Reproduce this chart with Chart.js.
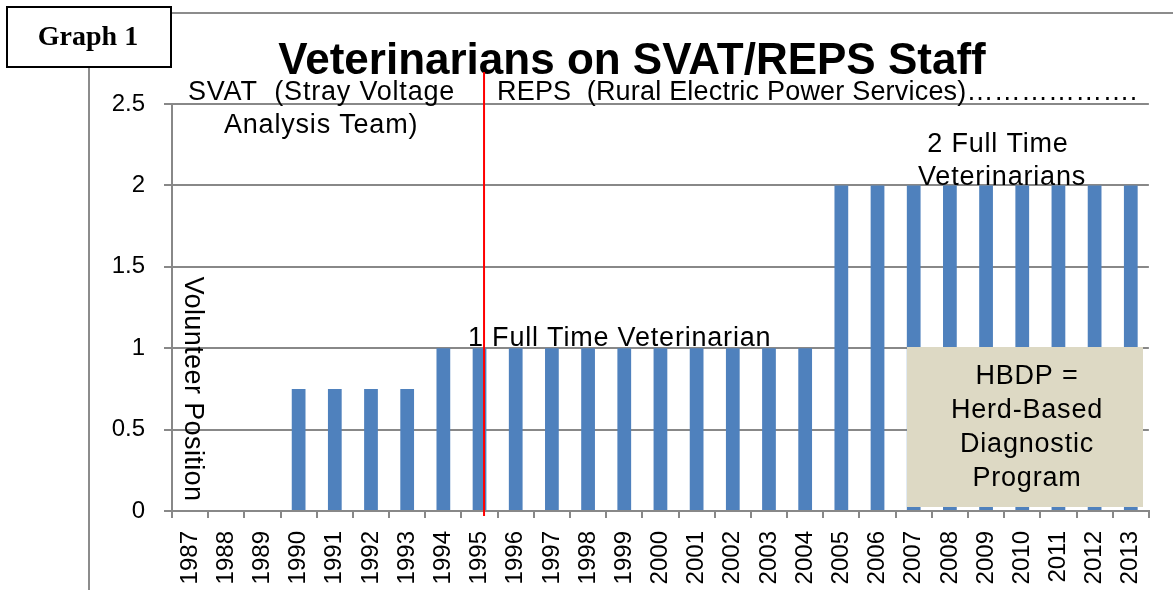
<!DOCTYPE html>
<html>
<head>
<meta charset="utf-8">
<title>Veterinarians on SVAT/REPS Staff</title>
<script src="https://cdn.jsdelivr.net/npm/chart.js@4.4.0/dist/chart.umd.min.js"></script>
<style>
  html, body { margin: 0; padding: 0; background: #fff; }
  #wrap { width: 1173px; height: 590px; position: relative; }
</style>
</head>
<body>
<div id="wrap"><canvas id="vetChart"></canvas></div>
<script>
const years = ['1987', '1988', '1989', '1990', '1991', '1992', '1993', '1994', '1995',
  '1996', '1997', '1998', '1999', '2000', '2001', '2002', '2003', '2004', '2005',
  '2006', '2007', '2008', '2009', '2010', '2011', '2012', '2013'];
const veterinarians = [0, 0, 0, 0.75, 0.75, 0.75, 0.75, 1, 1, 1, 1, 1, 1, 1, 1, 1, 1, 1,
  2, 2, 2, 2, 2, 2, 2, 2, 2];
const yTicks = [0, 0.5, 1, 1.5, 2, 2.5];
const repsStartYear = '1995';

const SANS = '"Liberation Sans", Arial, sans-serif';
const GRID = '#888888';

// titles, frame, notes and the HBDP box
const notes = {
  id: 'notes',
  beforeDraw(chart) {
    const ctx = chart.ctx;
    ctx.save();
    ctx.fillStyle = '#fff';
    ctx.fillRect(0, 0, chart.width, chart.height);

    ctx.strokeStyle = '#8c8c8c';
    ctx.lineWidth = 2;
    ctx.beginPath();
    ctx.moveTo(171, 13); ctx.lineTo(chart.width, 13);
    ctx.moveTo(89, 67); ctx.lineTo(89, chart.height);
    ctx.stroke();

    ctx.strokeStyle = '#000';
    ctx.strokeRect(7, 7, 164, 60);
    ctx.fillStyle = '#000';
    ctx.font = 'bold 28px "Liberation Serif", "Times New Roman", serif';
    ctx.textAlign = 'center';
    ctx.textBaseline = 'middle';
    ctx.fillText('Graph 1', 88, 38);

    ctx.font = 'bold 44px ' + SANS;
    ctx.textBaseline = 'alphabetic';
    ctx.fillText('Veterinarians on SVAT/REPS Staff', 632, 74);
    ctx.restore();
  },
  afterDatasetsDraw(chart) {
    const ctx = chart.ctx;
    const x = chart.scales.x, y = chart.scales.y;
    ctx.save();

    // boundary between SVAT and REPS
    const rx = x.getPixelForValue(years.indexOf(repsStartYear)) + 4.5;
    ctx.strokeStyle = '#ff0000';
    ctx.lineWidth = 2;
    ctx.beginPath();
    ctx.moveTo(rx, 72);
    ctx.lineTo(rx, y.bottom + 5);
    ctx.stroke();

    ctx.fillStyle = '#000';
    ctx.font = '27px ' + SANS;
    ctx.letterSpacing = '0.8px';
    ctx.textBaseline = 'alphabetic';
    ctx.textAlign = 'left';
    ctx.fillText('SVAT  (Stray Voltage', 188, 100);
    ctx.fillText('Analysis Team)', 224, 133);
    ctx.fillText('1 Full Time Veterinarian', 468, y.getPixelForValue(1) - 2);
    ctx.letterSpacing = '0.2px';
    ctx.fillText('REPS  (Rural Electric Power Services)\u2026\u2026\u2026\u2026\u2026\u2026.', 497, 100);
    ctx.letterSpacing = '0.8px';

    ctx.textAlign = 'center';
    ctx.fillText('2 Full Time', 998, 152);
    ctx.fillText('Veterinarians', 1002, y.getPixelForValue(2));

    ctx.save();
    ctx.translate(185, 389);
    ctx.rotate(Math.PI / 2);
    ctx.letterSpacing = '0.4px';
    ctx.fillText('Volunteer Position', 0, 0);
    ctx.restore();

    ctx.fillStyle = '#DDD9C4';
    ctx.fillRect(907, 347, 236, 160);
    ctx.fillStyle = '#000';
    ['HBDP =', 'Herd-Based', 'Diagnostic', 'Program'].forEach((t, i) => {
      ctx.fillText(t, 1027, 384 + i * 34);
    });
    ctx.restore();
  }
};

new Chart(document.getElementById('vetChart'), {
  type: 'bar',
  data: {
    labels: years,
    datasets: [{
      label: 'Veterinarians',
      data: veterinarians,
      backgroundColor: '#4F81BD',
      categoryPercentage: 1,
      barPercentage: 0.38,
    }],
  },
  options: {
    responsive: true,
    maintainAspectRatio: false,
    animation: false,
    layout: { padding: { top: 104, right: 22, left: 0, bottom: 0 } },
    plugins: {
      legend: { display: false },
      tooltip: { enabled: false },
    },
    scales: {
      x: {
        grid: { drawOnChartArea: false, tickLength: 7, color: GRID, lineWidth: 2 },
        border: { color: GRID, width: 2 },
        ticks: {
          autoSkip: false, minRotation: 90, maxRotation: 90, padding: 13,
          color: '#000', font: { family: SANS, size: 24 },
        },
        afterFit(s) { s.height = 79; },
      },
      y: {
        min: yTicks[0],
        max: yTicks[yTicks.length - 1],
        afterBuildTicks(s) { s.ticks = yTicks.map(v => ({ value: v })); },
        grid: { color: GRID, lineWidth: 2, tickLength: 8 },
        border: { color: GRID, width: 2 },
        ticks: {
          padding: 19, color: '#000', font: { family: SANS, size: 24 },
          callback: v => String(v),
        },
        afterFit(s) { s.width = 172; },
      },
    },
  },
  plugins: [notes],
});
</script>
</body>
</html>
